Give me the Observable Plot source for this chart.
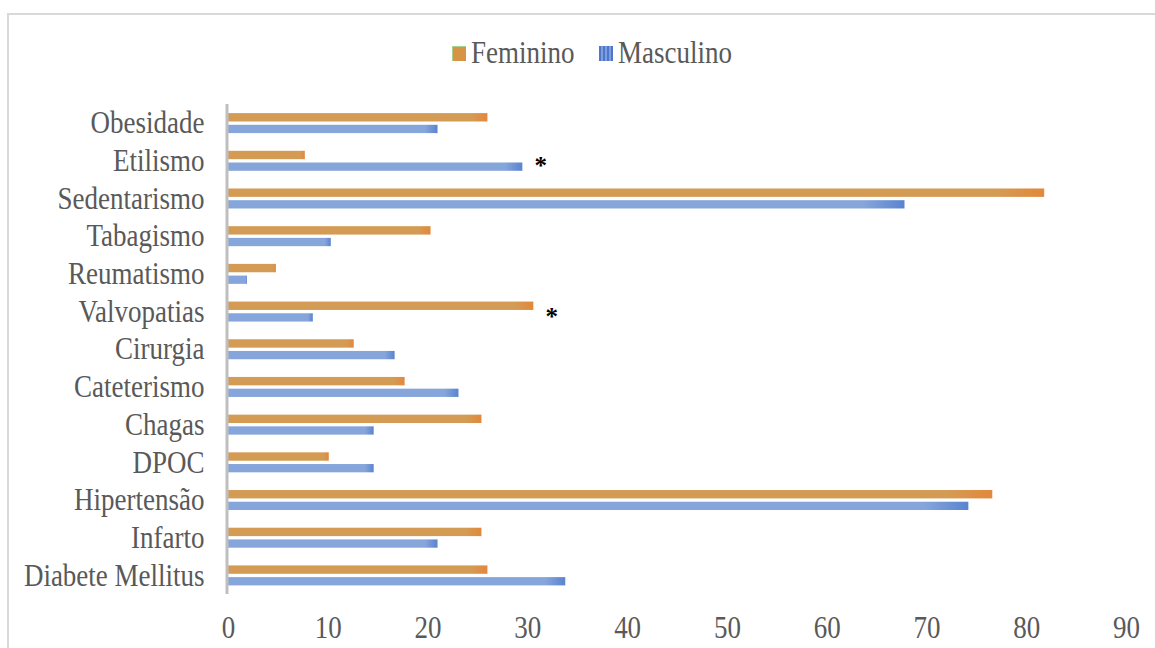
<!DOCTYPE html>
<html>
<head>
<meta charset="utf-8">
<script src="https://cdn.jsdelivr.net/npm/d3@7"></script>
<script src="https://cdn.jsdelivr.net/npm/@observablehq/plot@0.6"></script>
<style>
  html, body { margin: 0; padding: 0; background: #fff; width: 1155px; height: 648px; overflow: hidden; }
  #frame { position: absolute; left: 7px; top: 13px; width: 1200px; height: 700px;
           border-top: 2px solid #d9d9d9; border-left: 2px solid #d9d9d9; box-sizing: border-box; pointer-events: none; }
  #legend { position: relative; height: 90px; font-family: "Liberation Serif", serif; font-size: 27px; color: #595959; }
  .item { position: absolute; top: 40px; height: 26px; line-height: 26px; white-space: nowrap; }
  .sw { position: absolute; top: 6px; width: 14px; height: 15px; box-sizing: border-box; }
  .lbl { position: absolute; left: 19px; top: 0; display: inline-block; transform: scaleY(1.15); transform-origin: 50% 60%; }
  #chart { position: relative; }
</style>
</head>
<body>
<div id="frame"></div>
<div id="legend"></div>
<div id="chart"></div>
<script>
// ---- data ----
const categories = ["Diabete Mellitus", "Infarto", "Hipertensão", "DPOC", "Chagas", "Cateterismo",
  "Cirurgia", "Valvopatias", "Reumatismo", "Tabagismo", "Sedentarismo", "Etilismo", "Obesidade"];
const feminino  = [26.0, 25.4, 76.6, 10.1, 25.4, 17.7, 12.6, 30.6, 4.8, 20.3, 81.8, 7.7, 26.0];
const masculino = [33.8, 21.0, 74.2, 14.6, 14.6, 23.1, 16.7, 8.5, 1.9, 10.3, 67.8, 29.5, 21.0];
const series = ["Feminino", "Masculino"];
const xTicks = [0, 10, 20, 30, 40, 50, 60, 70, 80, 90];
const starCategories = ["Etilismo", "Valvopatias"];
const starValues = [31.3, 32.4];

const colors = { Feminino: ["#d49b54", "#e2883b"], Masculino: ["#86a5da", "#5a84d0"] };

// ---- legend ----
const legend = document.getElementById("legend");
const legendLeft = { Feminino: 452, Masculino: 599 };
series.forEach(s => {
  const it = document.createElement("div");
  it.className = "item";
  it.style.left = legendLeft[s] + "px";
  const sw = document.createElement("div");
  sw.className = "sw";
  if (s === "Feminino") {
    sw.style.background = "#d79445";
    sw.style.borderTop = "1px solid #a9d18e";
    sw.style.borderLeft = "1px solid #a9d18e";
  } else {
    sw.style.background = "repeating-linear-gradient(90deg, #4f76c8 0px, #4f76c8 2px, #7d9fe0 2px, #7d9fe0 4px)";
  }
  const lb = document.createElement("span");
  lb.className = "lbl";
  lb.textContent = s;
  it.appendChild(sw); it.appendChild(lb);
  legend.appendChild(it);
});

// ---- table ----
const femData = categories.map((c, i) => ({ cat: c, v: feminino[i] }));
const masData = categories.map((c, i) => ({ cat: c, v: masculino[i] }));
const stars = starCategories.map((c, i) => ({ cat: c, v: starValues[i] }));

const defs = () => {
  const ns = "http://www.w3.org/2000/svg";
  const d = document.createElementNS(ns, "defs");
  series.forEach(s => {
    const g = document.createElementNS(ns, "linearGradient");
    g.setAttribute("id", "grad" + s);
    g.setAttribute("x1", "0"); g.setAttribute("x2", "1");
    g.setAttribute("y1", "0"); g.setAttribute("y2", "0");
    [[0, colors[s][0]], [0.94, colors[s][0]], [1, colors[s][1]]].forEach(([o, c]) => {
      const st = document.createElementNS(ns, "stop");
      st.setAttribute("offset", o); st.setAttribute("stop-color", c);
      g.appendChild(st);
    });
    d.appendChild(g);
  });
  return d;
};

const plot = Plot.plot({
  width: 1155,
  height: 558,
  marginLeft: 228,
  marginRight: 29,
  marginTop: 14,
  marginBottom: 54,
  style: { fontFamily: "Liberation Serif, serif", fontSize: "27px", color: "#595959", background: "transparent" },
  x: { domain: [0, 90], ticks: xTicks },
  y: { domain: categories.slice().reverse(), padding: 0, round: false },
  marks: [
    defs,
    Plot.barX(femData, { x: "v", y: "cat", fill: "url(#gradFeminino)", insetTop: 9.1, insetBottom: 20.2 }),
    Plot.barX(masData, { x: "v", y: "cat", fill: "url(#gradMasculino)", insetTop: 20.8, insetBottom: 8.6 }),
    Plot.ruleX([0], { stroke: "#bfbfbf", strokeWidth: 3, dx: -1.5 }),
    Plot.text(stars, { x: "v", y: "cat", text: () => "*", fontSize: 25, fontWeight: "bold", fill: "#000", dy: 5 }),
    Plot.axisX({ ticks: xTicks, tickSize: 0, tickPadding: 23, fontSize: 27, fill: "#595959", label: null }),
    Plot.axisY({ tickSize: 0, tickPadding: 24, fontSize: 27, fill: "#595959", label: null })
  ]
});
document.getElementById("chart").appendChild(plot);

// stretch the tick-label glyphs vertically, as in the reference
const k = 1.15;
plot.querySelectorAll("g[aria-label='x-axis tick label'] text, g[aria-label='y-axis tick label'] text").forEach(el => {
  const b = el.getBBox();
  const c = b.y + b.height / 2;
  const t = el.getAttribute("transform") || "";
  el.setAttribute("transform", `${t} translate(0,${c}) scale(1,${k}) translate(0,${-c})`);
});
</script>
</body>
</html>
